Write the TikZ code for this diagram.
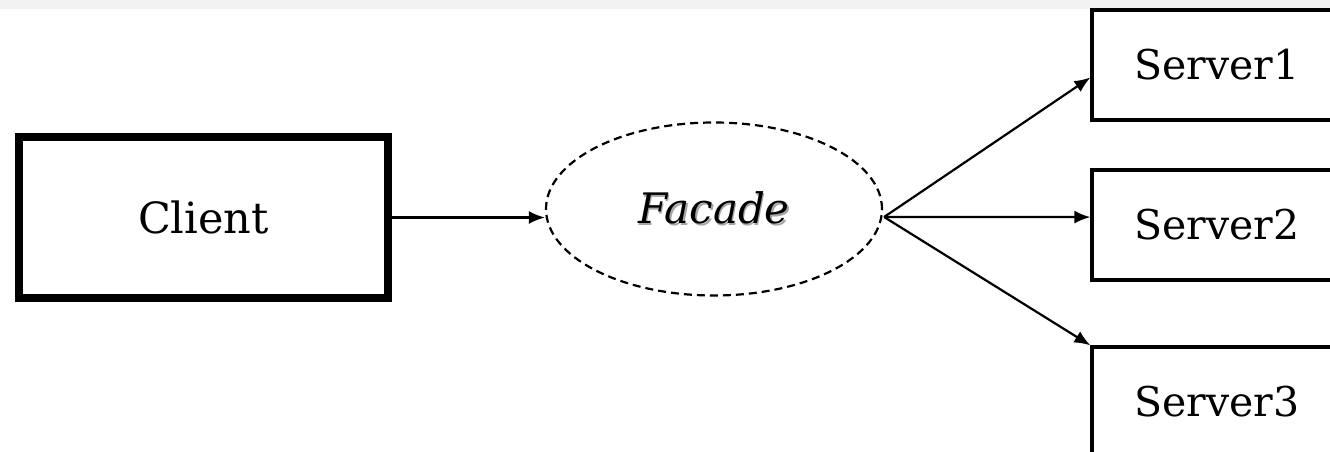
\documentclass[tikz,border=0pt]{standalone}
\usepackage{fontspec}
\setmainfont{DejaVu Serif}
\usetikzlibrary{shapes.geometric,arrows.meta,calc}
\definecolor{bandgray}{HTML}{F2F2F2}
\begin{document}
\begin{tikzpicture}[x=1pt,y=-1pt,
  clientbox/.style={draw, line width=8.5pt, minimum width=369pt, minimum height=161pt, inner sep=0pt, font=\fontsize{43}{50}\selectfont},
  serverbox/.style={draw, line width=3.2pt, minimum width=250pt, minimum height=110pt, inner sep=0pt, font=\fontsize{41}{48}\selectfont},
  facadeshape/.style={ellipse, draw, dashed, dash pattern=on 8pt off 5pt, line width=2.2pt, minimum width=336pt, minimum height=173pt, inner sep=0pt, font=\fontsize{42}{48}\selectfont\itshape},
  conn/.style={line width=2.2pt, -{Latex[length=16pt,width=13pt]}}
]
\useasboundingbox (0,0) rectangle (1330,452);
\clip (0,0) rectangle (1330,452);
\fill[bandgray] (0,0) rectangle (1330,9.5);

\node[clientbox] (client) at (203.5,217.5) {Client};
\node[facadeshape] (facade) at (714,209) {\makebox[0pt][l]{\raisebox{-2pt}{\hspace{1.5pt}\textcolor{black!35}{Facade}}}Facade};
\node[serverbox] (s1) at (1217,65) {Server1};
\node[serverbox] (s2) at (1217,225) {Server2};
\node[serverbox] (s3) at (1217,402) {Server3};

\draw[conn] (client.east) -- (facade.west |- client.east);
\coordinate (split) at ($(facade.east)+(1,8)$);
\draw[conn] (split) -- ($(s1.north west)!0.61!(s1.south west)$);
\draw[conn] (split) -- ($(s2.north west)!0.43!(s2.south west)$);
\draw[conn] (split) -- (s3.north west);
\end{tikzpicture}
\end{document}
